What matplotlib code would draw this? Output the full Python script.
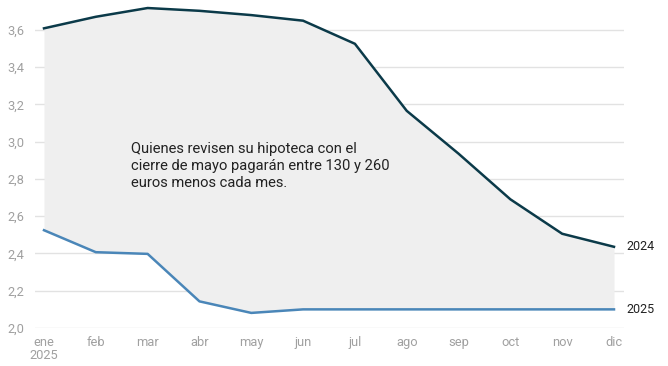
import matplotlib
matplotlib.use("Agg")
import matplotlib.pyplot as plt

months = ["ene", "feb", "mar", "abr", "may", "jun", "jul", "ago", "sep", "oct", "nov", "dic"]
s2024 = [3.609, 3.671, 3.718, 3.703, 3.680, 3.650, 3.526, 3.166, 2.936, 2.691, 2.506, 2.436]
s2025 = [2.525, 2.407, 2.398, 2.143, 2.081, 2.100, 2.100, 2.100, 2.100, 2.100, 2.100, 2.100]
yticks = [2.0, 2.2, 2.4, 2.6, 2.8, 3.0, 3.2, 3.4, 3.6]
ytick_labels = ["2,0", "2,2", "2,4", "2,6", "2,8", "3,0", "3,2", "3,4", "3,6"]
note = "Quienes revisen su hipoteca con el\ncierre de mayo pagarán entre 130 y 260\neuros menos cada mes."

plt.rcParams['font.family'] = ['Roboto', 'DejaVu Sans']

W, H = 668, 366
fig = plt.figure(figsize=(W / 100, H / 100), dpi=100)
ax_l, ax_r, ax_t, ax_b = 35, 624, 4, 328
ax = fig.add_axes([ax_l / W, 1 - ax_b / H, (ax_r - ax_l) / W, (ax_b - ax_t) / H])

x = list(range(len(months)))
ax.fill_between(x, s2025, s2024, color="#efefef", lw=0, zorder=1)
ax.plot(x, s2024, color="#0b3a49", lw=1.8, zorder=3, solid_joinstyle="round")
ax.plot(x, s2025, color="#4a86b8", lw=1.8, zorder=3, solid_joinstyle="round")

px = 570 / 11
ax.set_xlim(-9 / px, 11 + 10 / px)
ax.set_ylim(2.0, 2.0 + (ax_b - ax_t) / 186.25)

ax.set_yticks(yticks)
ax.set_yticklabels(ytick_labels)
ax.set_xticks(x)
ax.set_xticklabels(months)
ax.grid(axis="y", color="#e2e2e2", lw=1, zorder=0)
ax.set_axisbelow(True)
for s in ax.spines.values():
    s.set_visible(False)
ax.tick_params(axis="both", length=0, labelsize=9.3, labelcolor="#a0a0a0")
ax.tick_params(axis="y", pad=8)
ax.tick_params(axis="x", pad=6)

ax.text(0, -21 / (ax_b - ax_t), "2025", transform=ax.get_xaxis_transform(), ha="center", va="top",
        fontsize=9.3, color="#a0a0a0")

ax.text(11 + 12 / px, s2024[-1], "2024", ha="left", va="center", fontsize=9, color="#222222", clip_on=False)
ax.text(11 + 12 / px, s2025[-1], "2025", ha="left", va="center", fontsize=9, color="#222222", clip_on=False)

ax.text(1.67, 3.0, note, ha="left", va="top", fontsize=10.6, color="#222222", linespacing=1.28, zorder=4)

fig.savefig("out.png", dpi=100)
